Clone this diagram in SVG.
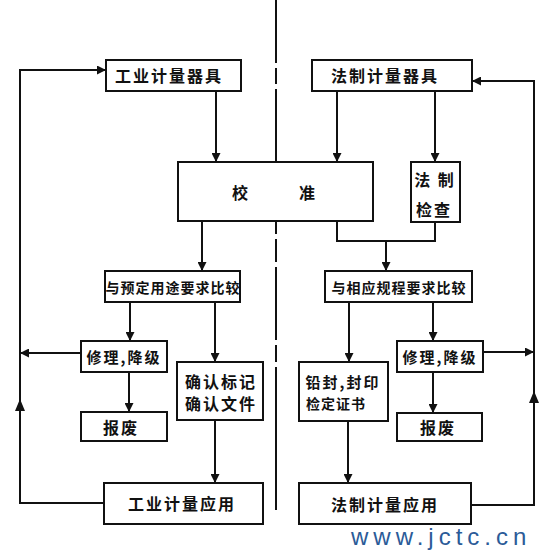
<svg xmlns="http://www.w3.org/2000/svg" width="552" height="556" viewBox="0 0 552 556">
<defs>
<marker id="ah" viewBox="0 0 10 10" refX="10" refY="5" markerWidth="9" markerHeight="9" markerUnits="userSpaceOnUse" orient="auto">
<path d="M0,0 L10,5 L0,10 z" fill="#111"/>
</marker>
</defs>
<style>
.box{fill:#fff;stroke:#111;stroke-width:2}
.ln{fill:none;stroke:#111;stroke-width:2}
.ar{fill:none;stroke:#111;stroke-width:2;marker-end:url(#ah)}
.t{font-family:"Noto Sans CJK SC","Noto Sans",sans-serif;font-weight:bold;fill:#111;text-anchor:middle;dominant-baseline:central}
.l16{font-size:16px;letter-spacing:2px}
.l15{font-size:15px;letter-spacing:2px}
.l14{font-size:14px;letter-spacing:1px}
.wm{font-family:"Liberation Sans","DejaVu Sans",sans-serif;font-size:24px;fill:#2b5b98;letter-spacing:5px}
</style>
<rect width="552" height="556" fill="#fff"/>
<g id="centerline">
<path class="ln" d="M276,0 V63 M276,68 V84 M276,89 V162 M276,221 V234 M276,239 V262 M276,267 V340 M276,345 V362 M276,367 V510"/>
</g>
<g id="connectors">
<path class="ar" d="M104,503 H20 V70 H106"/>
<path d="M20,399 L15,411 L25,411 z" fill="#111"/>
<path class="ar" d="M81,353 H20"/>
<path class="ar" d="M216,91 V162"/>
<path class="ar" d="M202,221 V271"/>
<path class="ar" d="M130,302 V341"/>
<path class="ar" d="M215,302 V362"/>
<path class="ar" d="M129,372 V412"/>
<path class="ar" d="M215,420 V483"/>
<path class="ar" d="M337,91 V162"/>
<path class="ar" d="M435,91 V162"/>
<path class="ln" d="M337,221 V241 H435 V222"/>
<path class="ar" d="M386,241 V271"/>
<path class="ar" d="M349,302 V362"/>
<path class="ar" d="M433,302 V341"/>
<path class="ar" d="M433,372 V413"/>
<path class="ar" d="M483,352 H534"/>
<path class="ar" d="M348,421 V483"/>
<path class="ar" d="M471,505 H534 V81 H472"/>
<path d="M534,391 L529,403 L539,403 z" fill="#111"/>
</g>
<g id="n1"><rect class="box" x="106" y="60" width="135" height="31"/><text class="t l16" x="169" y="75">工业计量器具</text></g>
<g id="n2"><rect class="box" x="312" y="60" width="160" height="31"/><text class="t l16" x="385" y="75">法制计量器具</text></g>
<g id="n3"><rect class="box" x="178" y="162" width="195" height="59"/><text class="t l16" x="241" y="192">校</text><text class="t l16" x="308" y="192">准</text></g>
<g id="n4"><rect class="box" x="411" y="162" width="49" height="60"/><text class="t l16" x="435" y="179">法 制</text><text class="t l16" x="434" y="209">检查</text></g>
<g id="n5"><rect class="box" x="105" y="271" width="135" height="31"/><text class="t l14" x="173" y="286.5">与预定用途要求比较</text></g>
<g id="n6"><rect class="box" x="325" y="271" width="147" height="31"/><text class="t l14" x="399" y="286.5">与相应规程要求比较</text></g>
<g id="n7"><rect class="box" x="81" y="341" width="86" height="31"/><text class="t l15" x="124" y="356">修理,降级</text></g>
<g id="n8"><rect class="box" x="81" y="412" width="86" height="29"/><text class="t l16" x="121" y="427">报废</text></g>
<g id="n9"><rect class="box" x="177" y="362" width="86" height="58"/><text class="t l16" x="221" y="381">确认标记</text><text class="t l16" x="221" y="403">确认文件</text></g>
<g id="n10"><rect class="box" x="299" y="362" width="89" height="59"/><text class="t l15" x="343" y="381">铅封,封印</text><text class="t l14" x="336" y="403">检定证书</text></g>
<g id="n11"><rect class="box" x="397" y="341" width="86" height="31"/><text class="t l15" x="440" y="356">修理,降级</text></g>
<g id="n12"><rect class="box" x="397" y="413" width="85" height="28"/><text class="t l16" x="438" y="427">报废</text></g>
<g id="n13"><rect class="box" x="104" y="483" width="159" height="41"/><text class="t l16" x="182" y="503">工业计量应用</text></g>
<g id="n14"><rect class="box" x="299" y="483" width="172" height="41"/><text class="t l16" x="385" y="504">法制计量应用</text></g>
<text class="wm" x="351" y="545">www.jctc.cn</text>
</svg>
